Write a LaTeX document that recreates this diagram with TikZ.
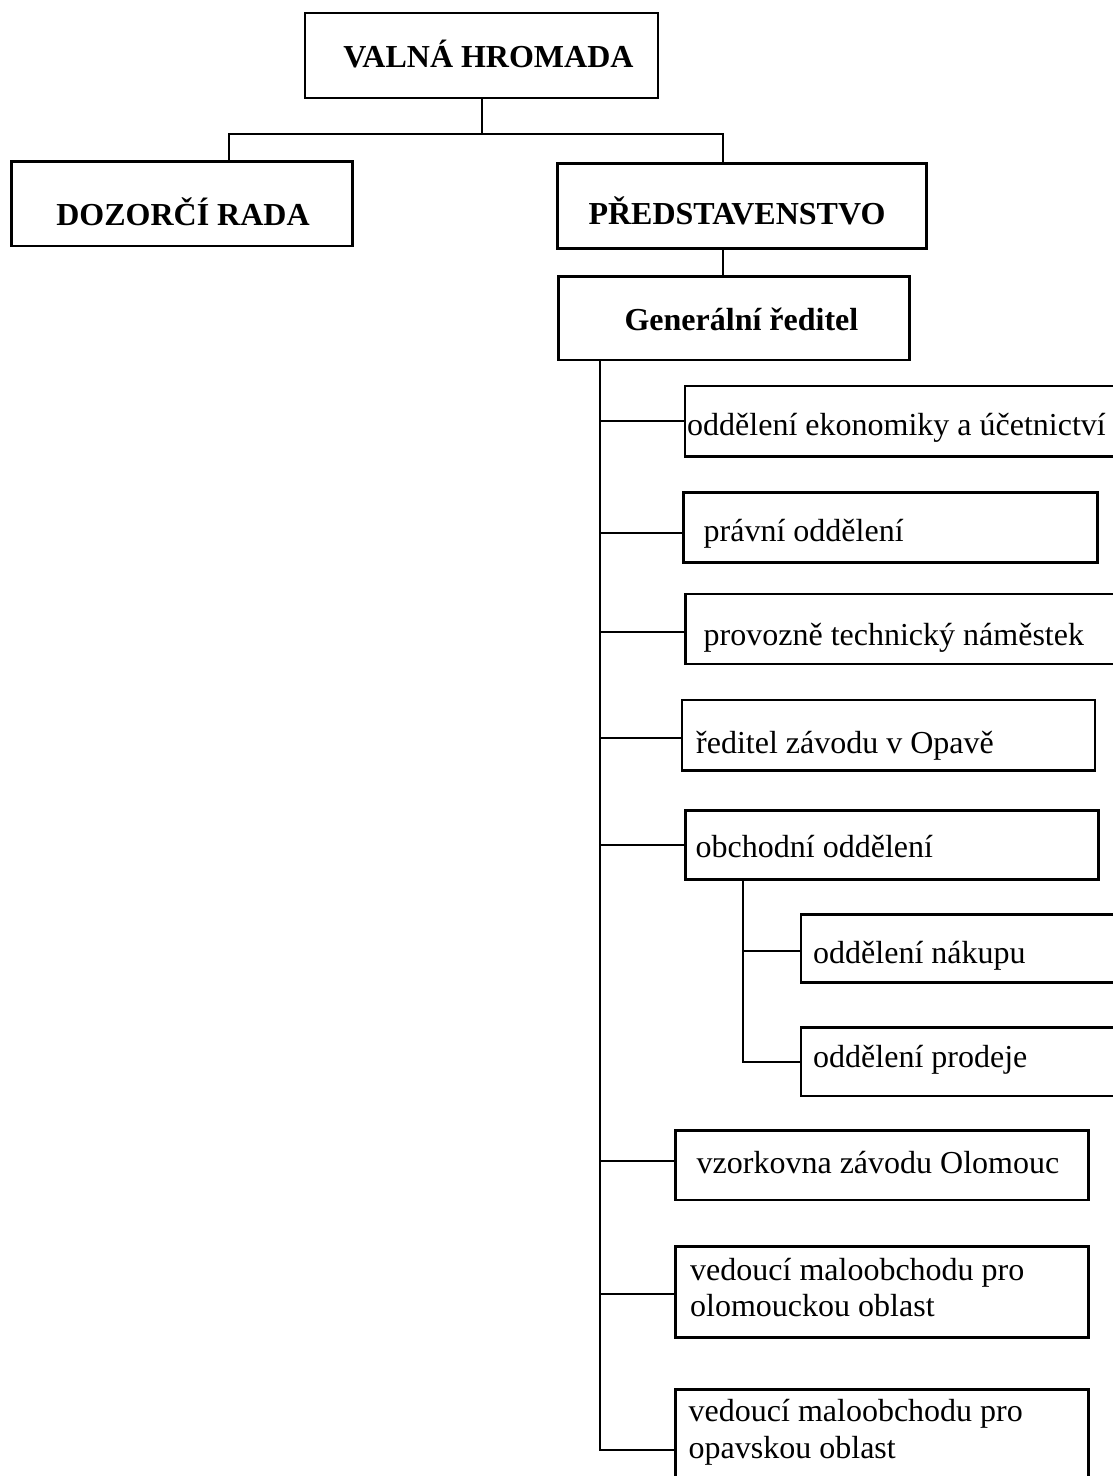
\documentclass[tikz,border=0pt]{standalone}
\usepackage{fontspec}
\setmainfont{Liberation Serif}
\newcommand\mybox[5]{\node[box, minimum width={#4-#2}, minimum height={#5-#3}] (#1) at (#2,#3) {};}
\newcommand\twolines[2]{\begin{tabular}[t]{@{}l@{}}#1\\#2\end{tabular}}
\begin{document}
\begin{tikzpicture}[x=1pt,y=-1pt,
  box/.style={draw, line width=2.6pt, rectangle, inner sep=0pt, outer sep=0pt, anchor=north west},
  conn/.style={line width=2pt, line cap=rect},
  lbl/.style={inner sep=0pt, font=\fontsize{32}{36.8}\selectfont, anchor=base west},
  blbl/.style={inner sep=0pt, font=\fontsize{32}{36.8}\selectfont\bfseries, anchor=base}]
\useasboundingbox (0,0) rectangle (1113,1476);
\fill[white] (0,0) rectangle (1113,1476);
\clip (0,0) rectangle (1113,1476);

% boxes (left, top, right, bottom)
\mybox{vh}{305}{13}{658}{98}
\mybox{dr}{11.7}{161.7}{352.3}{246}
\mybox{pr}{557.3}{163.3}{926.7}{248.3}
\mybox{gr}{558.3}{276.7}{909.3}{360}
\mybox{b1}{685}{386}{1125}{456.7}
\mybox{b2}{683.7}{492.7}{1097.7}{562.3}
\mybox{b3}{685.4}{594}{1125}{664}
\mybox{b4}{682}{700}{1095}{770.7}
\mybox{b5}{685.4}{810.7}{1098.7}{879.3}
\mybox{n1}{801}{914.3}{1125}{982.3}
\mybox{n2}{801}{1027.7}{1125}{1096}
\mybox{b6}{675.2}{1130.7}{1088.5}{1200}
\mybox{b7}{675.2}{1246.7}{1088.5}{1337.7}
\mybox{b8}{675.2}{1389.3}{1088.5}{1510}

% labels
\node[blbl] (vht) at (488.5,67) {VALNÁ HROMADA};
\node[blbl] (drt) at (183,225) {DOZORČÍ RADA};
\node[blbl] (prt) at (737,224) {PŘEDSTAVENSTVO};
\node[blbl] (grt) at (741.4,330.7) {Generální ředitel};
\node[lbl] (b1t) at (687,435) {oddělení ekonomiky a účetnictví};
\node[lbl] (b2t) at (703.5,541) {právní oddělení};
\node[lbl] (b3t) at (703.5,645.7) {provozně technický náměstek};
\node[lbl] (b4t) at (696,753) {ředitel závodu v Opavě};
\node[lbl] (b5t) at (695.5,857.7) {obchodní oddělení};
\node[lbl] (n1t) at (813,963) {oddělení nákupu};
\node[lbl] (n2t) at (813,1067) {oddělení prodeje};
\node[lbl] (b6t) at (696.5,1173) {vzorkovna závodu Olomouc};
\node[lbl] (b7t) at (690,1280) {\twolines{vedoucí maloobchodu pro}{olomouckou oblast}};
\node[lbl] (b8t) at (688.5,1421.7) {\twolines{vedoucí maloobchodu pro}{opavskou oblast}};

% top connectors
\coordinate (jl) at (229,134);
\coordinate (jr) at (722.7,134);
\draw[conn] (vh.south) -- (vh.south |- jl);
\draw[conn] (jl) -- (jr);
\draw[conn] (jl) -- (jl |- dr.north);
\draw[conn] (jr) -- (jr |- pr.north);
\draw[conn] (jr |- pr.south) -- (jr |- gr.north);

% branch end points on the boxes
\coordinate (e1) at (b1.west);
\coordinate (e2) at ([yshift=-5pt]b2.west);
\coordinate (e3) at ([yshift=-3pt]b3.west);
\coordinate (e4) at ([yshift=-3pt]b4.west);
\coordinate (e5) at (b5.west);
\coordinate (e6) at ([yshift=4pt]b6.west);
\coordinate (e7) at ([yshift=-2pt]b7.west);
\coordinate (e8) at (b8.west |- 0,1450);
\coordinate (f1) at ([yshift=-3pt]n1.west);
\coordinate (f2) at (n2.west);

% main trunk
\coordinate (tr) at (600,360);
\draw[conn] (tr) -- (tr |- e8);
\foreach \e in {e1,e2,e3,e4,e5,e6,e7,e8}
  \draw[conn] (tr |- \e) -- (\e);

% sub trunk
\coordinate (st) at (743.3,879.3);
\draw[conn] (st) -- (st |- f2);
\foreach \e in {f1,f2}
  \draw[conn] (st |- \e) -- (\e);
\end{tikzpicture}
\end{document}
